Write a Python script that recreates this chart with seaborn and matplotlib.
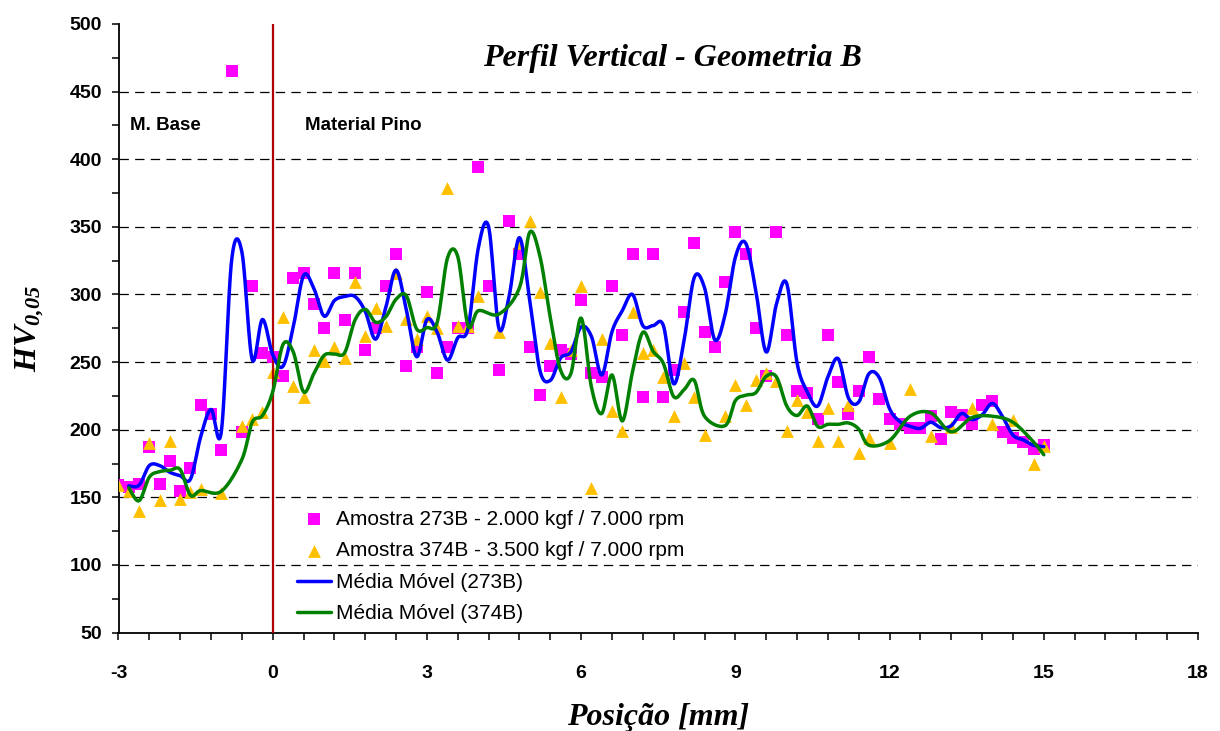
import numpy as np
import pandas as pd
import matplotlib
matplotlib.use("Agg")
import matplotlib.pyplot as plt
import seaborn as sns
from matplotlib.ticker import MultipleLocator

# ---------------- data ----------------
pos_273 = [-3.0, -2.8, -2.6, -2.4, -2.2, -2.0, -1.8, -1.6, -1.4, -1.2, -1.0, -0.8, -0.6, -0.4, -0.2,
           0.0, 0.2, 0.4, 0.6, 0.8, 1.0, 1.2, 1.4, 1.6, 1.8, 2.0, 2.2, 2.4, 2.6, 2.8,
           3.0, 3.2, 3.4, 3.6, 3.8, 4.0, 4.2, 4.4, 4.6, 4.8, 5.0, 5.2, 5.4, 5.6, 5.8,
           6.0, 6.2, 6.4, 6.6, 6.8, 7.0, 7.2, 7.4, 7.6, 7.8, 8.0, 8.2, 8.4, 8.6, 8.8,
           9.0, 9.2, 9.4, 9.6, 9.8, 10.0, 10.2, 10.4, 10.6, 10.8, 11.0, 11.2, 11.4, 11.6, 11.8,
           12.0, 12.2, 12.4, 12.6, 12.8, 13.0, 13.2, 13.4, 13.6, 13.8, 14.0, 14.2, 14.4, 14.6, 14.8,
           15.0]
hv_273 = [159, 158, 160, 187, 160, 177, 155, 172, 218, 212, 185, 465, 198, 306, 257,
          254, 240, 312, 316, 293, 275, 316, 281, 316, 259, 275, 306, 330, 247, 261,
          302, 242, 261, 275, 275, 394, 306, 244, 354, 330, 261, 226, 247, 259, 256,
          296, 242, 239, 306, 270, 330, 224, 330, 224, 244, 287, 338, 272, 261, 309,
          346, 330, 275, 240, 346, 270, 229, 227, 208, 270, 235, 212, 229, 254, 223,
          208, 204, 201, 201, 210, 193, 213, 211, 204, 218, 221, 198, 194, 191, 186,
          189]

pos_374 = [-3.0, -2.8, -2.6, -2.4, -2.2, -2.0, -1.8, -1.6, -1.4, -1.0, -0.6, -0.4, -0.2, 0.0,
           0.2, 0.4, 0.6, 0.8, 1.0, 1.2, 1.4, 1.6, 1.8, 2.0, 2.2, 2.4, 2.6, 2.8, 3.0, 3.2,
           3.4, 3.6, 3.8, 4.0, 4.4, 4.8,
           5.0, 5.2, 5.4, 5.6, 5.8, 6.0, 6.2, 6.4, 6.6, 6.8, 7.0, 7.2, 7.4, 7.6, 7.8, 8.0, 8.2, 8.4,
           8.8, 9.0, 9.2, 9.4, 9.6, 9.8, 10.0, 10.2, 10.4, 10.6, 10.8, 11.0, 11.2, 11.4, 11.6,
           12.0, 12.4, 12.8, 13.2, 13.6, 14.0, 14.4, 14.8, 15.0]
hv_374 = [159, 155, 140, 190, 148, 192, 149, 154, 156, 153, 203, 208, 213, 243,
          283, 232, 224, 259, 251, 261, 253, 309, 269, 290, 277, 316, 282, 267, 284, 275,
          379, 277, 277, 299, 272, 338,
          354, 302, 264, 224, 259, 306, 157, 267, 214, 199, 287, 257, 259, 239, 210, 249, 224, 196,
          210, 233, 218, 237, 242, 236, 199, 222, 213, 192, 216, 192, 218, 183, 194,
          190, 230, 195, 202, 216, 204, 207, 175, 188]

label_273 = "Amostra 273B - 2.000 kgf / 7.000 rpm"
label_374 = "Amostra 374B - 3.500 kgf / 7.000 rpm"
label_ma273 = "Média Móvel (273B)"
label_ma374 = "Média Móvel (374B)"
x_ticks = [-3, 0, 3, 6, 9, 12, 15, 18]
y_ticks = [50, 100, 150, 200, 250, 300, 350, 400, 450, 500]

# ---------------- helpers ----------------
def smooth_curve(x, y, n=24):
    """Excel-like smoothed line (Bezier with Catmull-Rom control points)."""
    P = np.column_stack([x, y]).astype(float)
    m = len(P)
    out = []
    t = np.linspace(0, 1, n, endpoint=False)
    for i in range(m - 1):
        p0 = P[i - 1] if i > 0 else P[i]
        p1, p2 = P[i], P[i + 1]
        p3 = P[i + 2] if i + 2 < m else P[i + 1]
        c1 = p1 + (p2 - p0) / 6.0
        c2 = p2 - (p3 - p1) / 6.0
        tt = t[:, None]
        seg = ((1 - tt) ** 3) * p1 + 3 * ((1 - tt) ** 2) * tt * c1 + 3 * (1 - tt) * tt ** 2 * c2 + tt ** 3 * p2
        out.append(seg)
    out.append(P[-1][None, :])
    out = np.vstack(out)
    return out[:, 0], out[:, 1]

df273 = pd.DataFrame({"pos": pos_273, "hv": hv_273})
df374 = pd.DataFrame({"pos": pos_374, "hv": hv_374})
df273["ma"] = df273["hv"].rolling(2).mean()
df374["ma"] = df374["hv"].rolling(2).mean()
m273 = df273.dropna()
m374 = df374.dropna()
sx1, sy1 = smooth_curve(m273["pos"].values, m273["ma"].values)
sx2, sy2 = smooth_curve(m374["pos"].values, m374["ma"].values)

# ---------------- style ----------------
sns.set_theme(style="white")
plt.rcParams["font.family"] = ["Liberation Sans", "DejaVu Sans"]
plt.rcParams["axes.unicode_minus"] = False
plt.rcParams["mathtext.fontset"] = "custom"
plt.rcParams["mathtext.it"] = "Liberation Serif:italic:bold"
plt.rcParams["mathtext.rm"] = "Liberation Serif:italic:bold"
plt.rcParams["mathtext.bf"] = "Liberation Serif:italic:bold"

W, H = 1220, 731
fig = plt.figure(figsize=(W / 100, H / 100), dpi=100)
x_left, x_right, y_top, y_bot = 118.5, 1198.0, 24.0, 632.6
ax = fig.add_axes([x_left / W, 1 - y_bot / H, (x_right - x_left) / W, (y_bot - y_top) / H])

sns.scatterplot(data=df273, x="pos", y="hv", marker="s", s=72, color="#FF00FF",
                linewidth=0, ax=ax, label=label_273, zorder=3)
sns.scatterplot(data=df374, x="pos", y="hv", marker="^", s=85, color="#FFC000",
                linewidth=0, ax=ax, label=label_374, zorder=4)
ax.axvline(0, color="#B00000", lw=1.6, zorder=5)
sns.lineplot(x=sx1, y=sy1, sort=False, estimator=None, color="#0000FF", lw=2.5,
             ax=ax, label=label_ma273, zorder=6)
sns.lineplot(x=sx2, y=sy2, sort=False, estimator=None, color="#008000", lw=2.5,
             ax=ax, label=label_ma374, zorder=7)

ax.set_xlim(-3, 18)
ax.set_ylim(50, 500)
ax.set_xticks(x_ticks)
ax.set_yticks(y_ticks)
ax.xaxis.set_minor_locator(MultipleLocator(0.6))
ax.yaxis.set_minor_locator(MultipleLocator(25))
ax.set_axisbelow(True)
ax.yaxis.grid(True, which="major", color="black", lw=0.9, linestyle=(0, (7.5, 5)))
ax.xaxis.grid(False)

for s in ["top", "right"]:
    ax.spines[s].set_visible(False)
for s in ["left", "bottom"]:
    ax.spines[s].set_color("black")
    ax.spines[s].set_linewidth(1.3)

ax.tick_params(axis="both", which="both", direction="out", length=5, width=1.1,
               color="black", bottom=True, left=True, top=False, right=False)
ax.tick_params(axis="x", which="major", labelsize=14, pad=18)
ax.tick_params(axis="y", which="major", labelsize=14, pad=7)
for lbl in ax.get_xticklabels() + ax.get_yticklabels():
    lbl.set_fontweight("bold")
    lbl.set_color("black")

fig.canvas.draw()
glines = ax.yaxis.get_gridlines()
if glines:
    glines[-1].set_visible(False)
    glines[0].set_visible(False)

ax.set_xlabel("Posição [mm]", fontsize=23, fontweight="bold", fontstyle="italic",
              family=["Liberation Serif"], color="black")
ax.xaxis.label.set_va("center")
ax.xaxis.set_label_coords(0.5, -0.14)
ax.set_ylabel(r"$HV_{0{,}05}$", fontsize=23, color="black")
ax.yaxis.label.set_va("center")
ax.yaxis.set_label_coords(-0.082, 0.5)

ax.text(0.5127, 0.944, "Perfil Vertical - Geometria B", transform=ax.transAxes,
        ha="center", va="center", fontsize=23, fontweight="bold", fontstyle="italic",
        family=["Liberation Serif"], color="black")
ax.text(0.0106, 0.834, "M. Base", transform=ax.transAxes, ha="left", va="center",
        fontsize=13.5, fontweight="bold", color="black")
ax.text(0.1728, 0.834, "Material Pino", transform=ax.transAxes, ha="left", va="center",
        fontsize=13.5, fontweight="bold", color="black")

handles, labels = ax.get_legend_handles_labels()
leg = ax.legend(handles, labels, loc="upper left", bbox_to_anchor=(0.1654, 0.2015),
                frameon=False, fontsize=15, handlelength=1.65, handletextpad=0.2,
                borderpad=0, borderaxespad=0, labelspacing=0.6, scatterpoints=1)
for t in leg.get_texts():
    t.set_color("black")

fig.savefig("out.png", dpi=100)
